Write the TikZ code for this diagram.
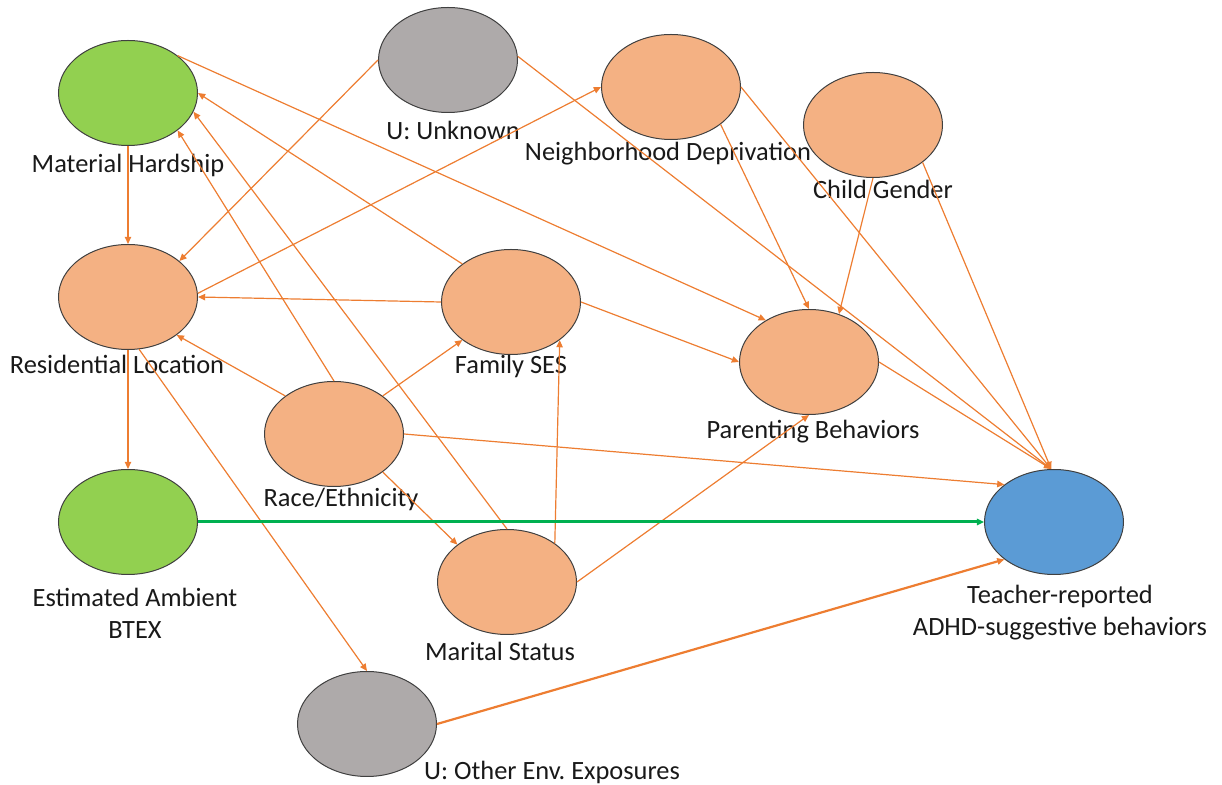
\documentclass[tikz,border=0pt]{standalone}
\usepackage{fontspec}
\setmainfont{Carlito}
\usetikzlibrary{arrows.meta,shapes.geometric}

\definecolor{hardgreen}{RGB}{146,208,80}
\definecolor{covorange}{RGB}{244,177,131}
\definecolor{unkgray}{RGB}{174,170,170}
\definecolor{outblue}{RGB}{91,155,213}
\definecolor{arroworange}{RGB}{237,125,49}
\definecolor{btexgreen}{RGB}{0,176,80}

\tikzset{
  var/.style={ellipse, draw=black!75, line width=0.5pt, minimum width=69.5pt,
    minimum height=52.5pt, inner sep=0pt},
  lbl/.style={font=\fontsize{13.2}{16}\selectfont, text=black!90, align=center, inner sep=0pt},
  edge/.style={draw=arroworange, line width=0.6pt, -{Triangle[length=3.6pt,width=3.2pt]}}
}

\begin{document}
\begin{tikzpicture}[x=0.5pt,y=-0.5pt]
    % Fix the frame
    \useasboundingbox (0,0) rectangle (1222,785);

    % Draw the variables
    \node[var, fill=hardgreen] (mh) at (128,93) {};
    \node[var, fill=unkgray] (uu) at (448,60) {};
    \node[var, fill=covorange] (nd) at (671,87) {};
    \node[var, fill=covorange] (cg) at (873,125) {};
    \node[var, fill=covorange] (rl) at (128,297) {};
    \node[var, fill=covorange] (fs) at (511,302) {};
    \node[var, fill=covorange] (pb) at (809,362) {};
    \node[var, fill=covorange] (race) at (334,434) {};
    \node[var, fill=hardgreen] (btex) at (128,522) {};
    \node[var, fill=outblue] (tr) at (1054,522) {};
    \node[var, fill=covorange] (ms) at (507,582) {};
    \node[var, fill=unkgray] (uo) at (367,724) {};

    % Draw the labels
    \node[lbl] (mhtext) at (128,165) {Material Hardship};
    \node[lbl] (uutext) at (453,130) {U: Unknown};
    \node[lbl] (ndtext) at (668,154) {Neighborhood Deprivation};
    \node[lbl] (cgtext) at (883,189) {Child Gender};
    \node[lbl] (rltext) at (117,364) {Residential Location};
    \node[lbl] (fstext) at (511,366) {Family SES};
    \node[lbl] (pbtext) at (813,432) {Parenting Behaviors};
    \node[lbl] (racetext) at (341,499) {Race/Ethnicity};
    \node[lbl] (btextext) at (135,613) {Estimated Ambient\\BTEX};
    \node[lbl] (trtext) at (1060,613) {Teacher-reported\\ADHD-suggestive behaviors};
    \node[lbl] (mstext) at (500,651) {Marital Status};
    \node[lbl] (uotext) at (552,772) {U: Other Env.\ Exposures};

    % Draw the covariate paths
    \foreach \a/\b in {mh.south/rl.north, rl.south/btex.north, mh.37/pb.136,
        uu.west/rl.35, uu.3/tr.93, rl.3/nd.west, fs.west/rl.east, fs.142/mh.east,
        fs.east/pb.west, nd.-37/pb.north, nd.east/tr.93, cg.south/pb.58,
        cg.-37/tr.93, pb.east/tr.93, race.142/rl.-38, race.38/fs.-142,
        race.north/mh.-37, race.east/tr.143, race.-38/ms.143, ms.39/fs.-38,
        ms.north/mh.-16, ms.east/pb.south, rl.-78/uo.north} {
        \draw[edge] (\a) -- (\b);
    }

    % Draw the exposure and the other exposures
    \draw[edge, draw=btexgreen, line width=1.5pt] (btex.east) -- (tr.west);
    \draw[edge, line width=1.1pt] (uo.east) -- (tr.-143);
\end{tikzpicture}
\end{document}
